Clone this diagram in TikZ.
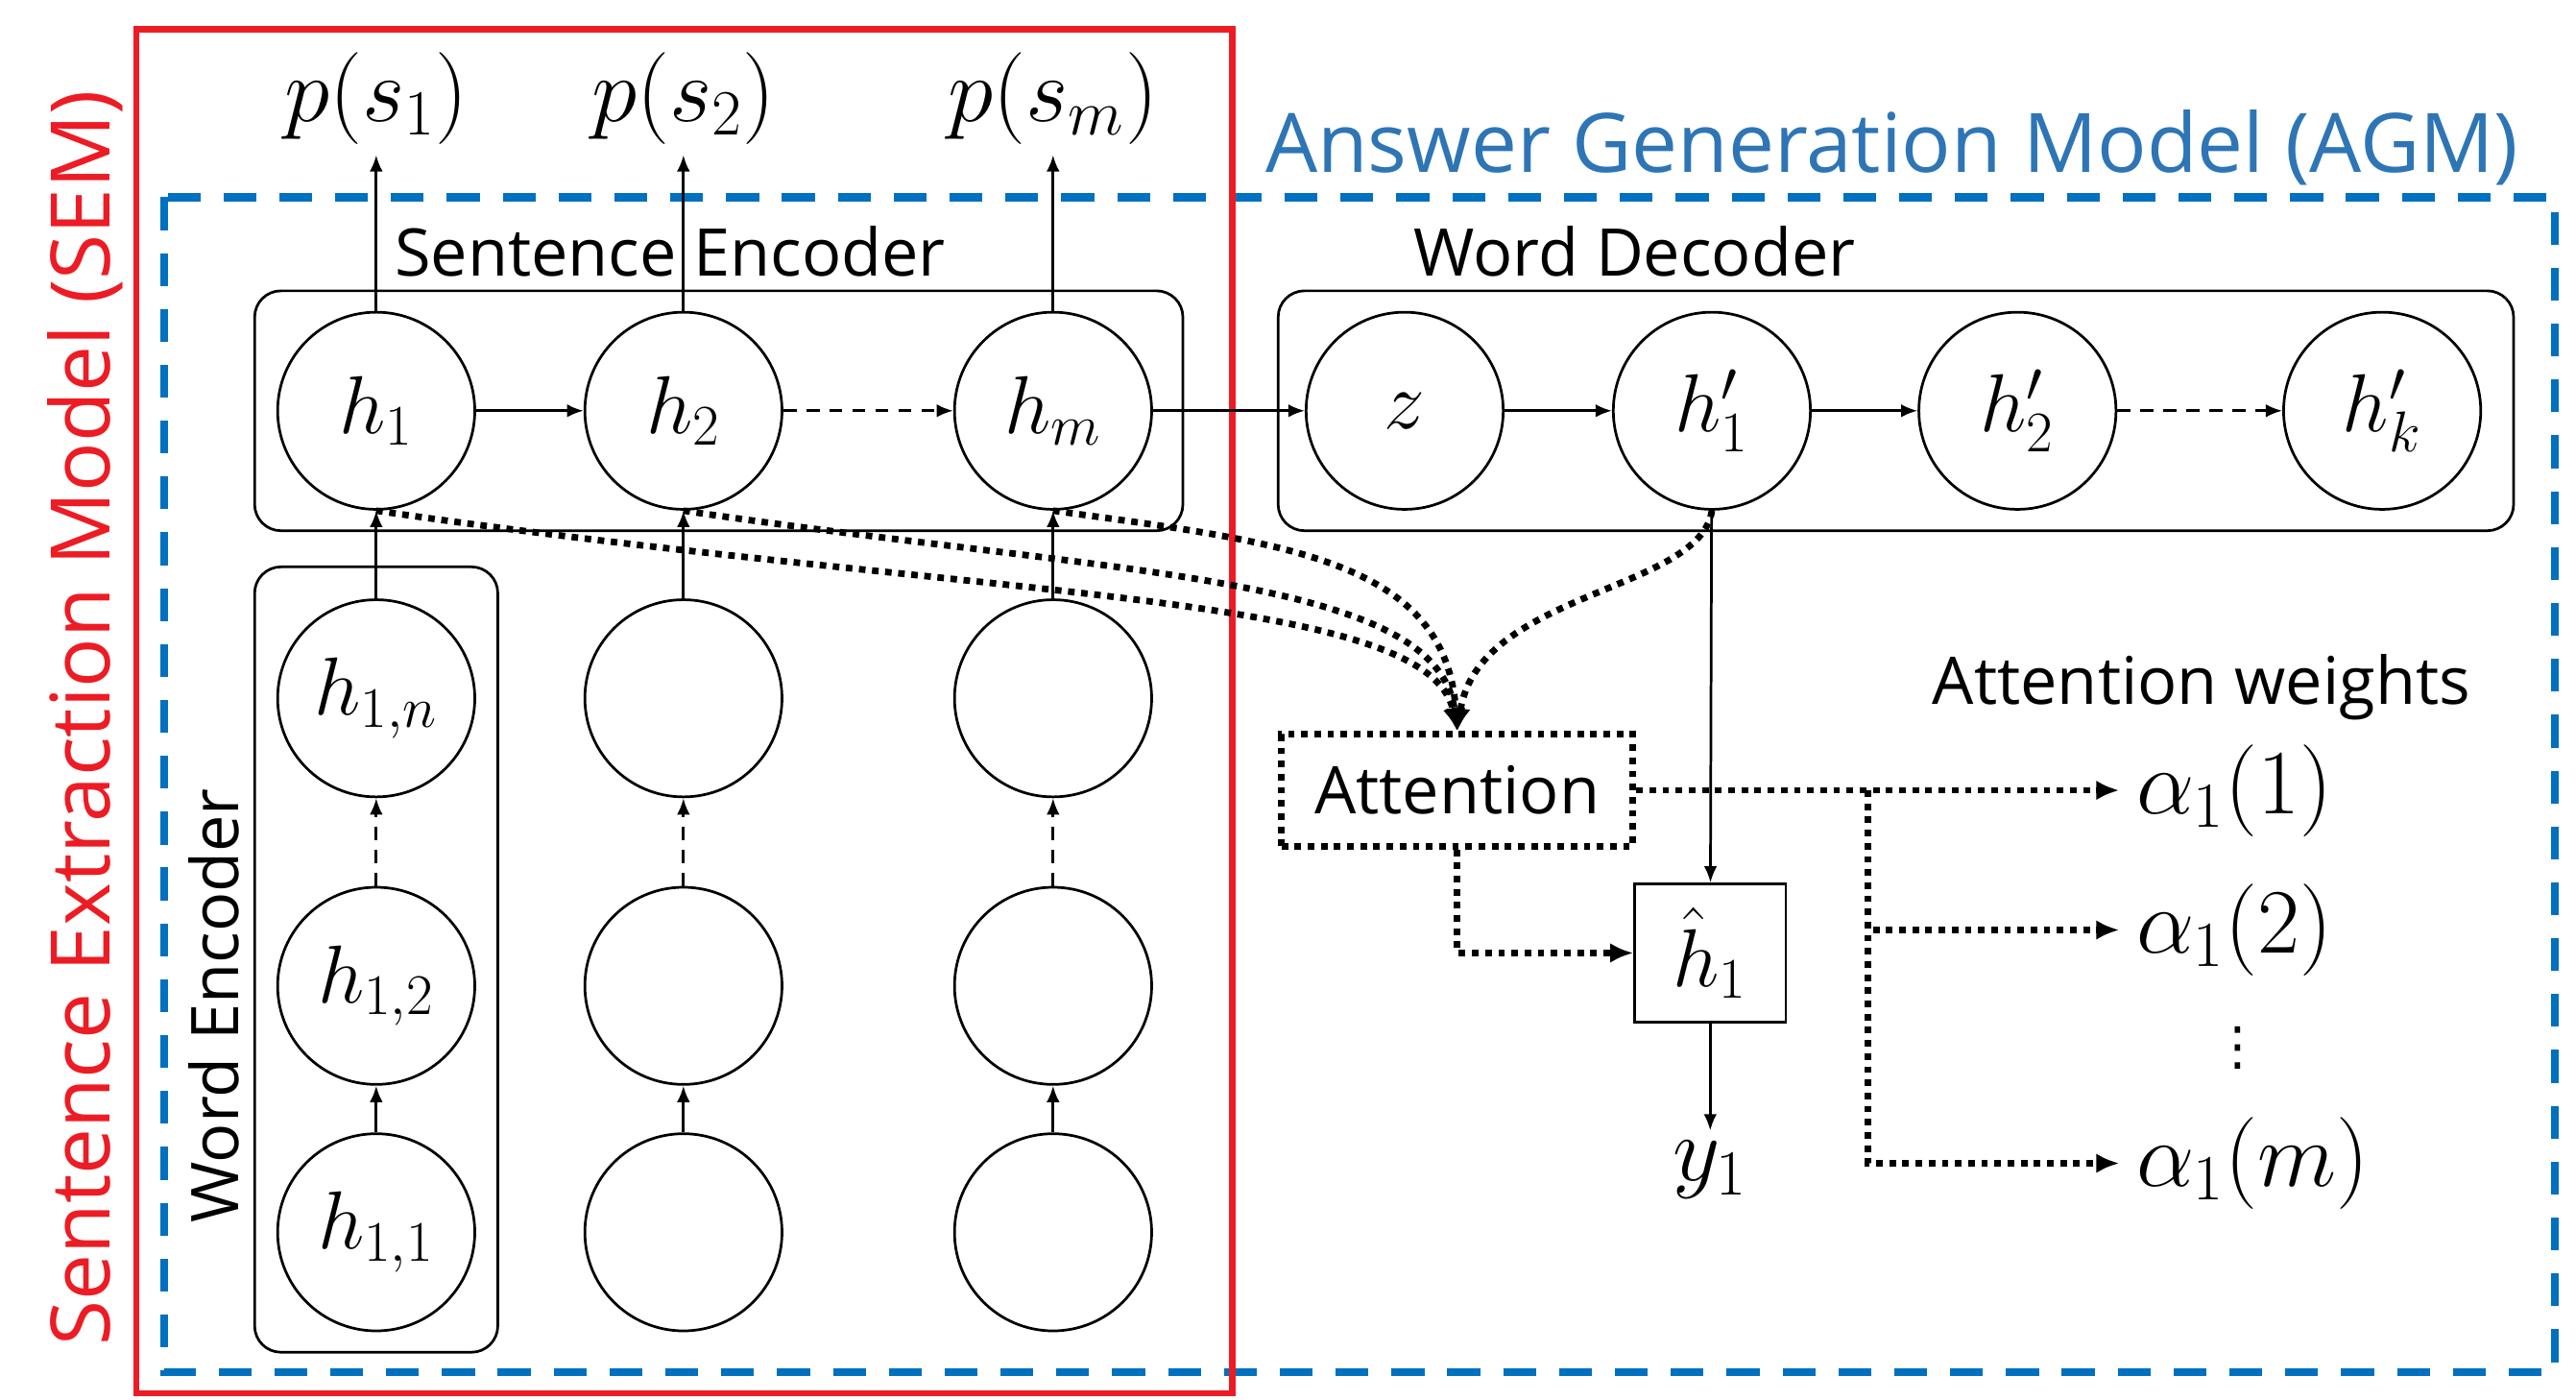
\RequirePackage{fix-cm}
\documentclass[tikz,border=0pt]{standalone}
\usepackage{fontspec}
\setmainfont{Open Sans}
\newfontfamily\djv{DejaVu Sans}
\usetikzlibrary{arrows.meta}
\definecolor{semred}{RGB}{237,28,36}
\definecolor{agmblue}{RGB}{0,112,192}
\definecolor{agmtext}{RGB}{46,117,182}
\begin{document}
\begin{tikzpicture}[x=0.5pt,y=-0.5pt,
  circ/.style={circle,draw,line width=0.8pt,fill=white,minimum size=60pt,inner sep=0pt,font=\fontsize{25}{30}\selectfont},
  grp/.style={draw,rounded corners=8pt,line width=0.8pt},
  arr/.style={-{Latex[length=5pt,width=4pt]},line width=0.8pt},
  darr/.style={arr,dash pattern=on 4pt off 3pt},
  dotline/.style={line width=2pt,dash pattern=on 2pt off 2pt},
  dotarr/.style={dotline,-{Latex[length=7pt,width=6pt]}},
  lbl/.style={font=\fontsize{20}{24}\selectfont},
  mlbl/.style={font=\fontsize{28}{32}\selectfont,inner sep=1pt},
  biglbl/.style={font=\fontsize{25}{30}\selectfont}
]
\useasboundingbox (0,0) rectangle (1568,852);

% outer boxes
\draw[agmblue,line width=2.5pt,dash pattern=on 10pt off 7pt] (100,120) rectangle (1555,835);
\draw[semred,line width=2pt] (83,18) rectangle (750,848);
\node[biglbl,text=semred,rotate=90] (semlbl) at (52,437) {Sentence Extraction Model (SEM)};
\node[biglbl,text=agmtext,anchor=east] (agmlbl) at (1540,90) {Answer Generation Model (AGM)};

% group boxes
\draw[grp] (155,177) rectangle (720,323);
\draw[grp] (778,177) rectangle (1530,323);
\draw[grp] (155,345) rectangle (303,823);
\node[lbl] (selbl) at (408,153) {Sentence Encoder};
\node[lbl] (wdlbl) at (995,153) {Word Decoder};
\node[lbl,rotate=90] (welbl) at (130,612) {Word Encoder};

% sentence encoder
\node[circ] (h1) at (229,250) {$h_1$};
\node[circ] (h2) at (416,250) {$h_2$};
\node[circ] (hm) at (641,250) {$h_m$};
% decoder
\node[circ] (z) at (855,250) {$z$};
\node[circ] (hp1) at (1042,250) {$h'_1$};
\node[circ] (hp2) at (1228,250) {$h'_2$};
\node[circ] (hpk) at (1450,250) {$h'_k$};
% word encoder
\node[circ] (w1n) at (229,425) {$h_{1,n}$};
\node[circ] (w12) at (229,600) {$h_{1,2}$};
\node[circ] (w11) at (229,750) {$h_{1,1}$};
\node[circ] (w2n) at (416,425) {};
\node[circ] (w22) at (416,600) {};
\node[circ] (w21) at (416,750) {};
\node[circ] (wmn) at (641,425) {};
\node[circ] (wm2) at (641,600) {};
\node[circ] (wm1) at (641,750) {};

% outputs
\node[mlbl,inner sep=3pt] (p1) at (229,60) {$p(s_1)$};
\node[mlbl,inner sep=3pt] (p2) at (416,60) {$p(s_2)$};
\node[mlbl,inner sep=3pt] (pm) at (641,60) {$p(s_m)$};
\draw[arr] (h1) -- (p1);
\draw[arr] (h2) -- (p2);
\draw[arr] (hm) -- (pm);

% horizontal chains
\draw[arr] (h1) -- (h2);
\draw[darr] (h2) -- (hm);
\draw[arr] (hm) -- (z);
\draw[arr] (z) -- (hp1);
\draw[arr] (hp1) -- (hp2);
\draw[darr] (hp2) -- (hpk);

% vertical chains
\foreach \a/\b/\c/\d in {w11/w12/w1n/h1, w21/w22/w2n/h2, wm1/wm2/wmn/hm}{
  \draw[arr] (\a) -- (\b);
  \draw[darr] (\b) -- (\c);
  \draw[arr] (\c) -- (\d);
}

% attention part
\node[lbl,dotline,draw,minimum width=107pt,minimum height=34pt,inner sep=0pt] (att) at (887,481) {Attention};
\node[draw,line width=0.8pt,minimum width=46pt,minimum height=42pt,inner sep=0pt,font=\fontsize{25}{30}\selectfont] (hh) at (1041,580) {$\hat{h}_1$};
\node[mlbl,inner sep=3pt] (y1) at (1041,712) {$y_1$};
\node[lbl] (awlbl) at (1340,418) {Attention weights};
\node[mlbl,anchor=west] (a1) at (1298,481) {$\alpha_1(1)$};
\node[mlbl,anchor=west] (a2) at (1298,566) {$\alpha_1(2)$};
\node[font=\djv\fontsize{16}{18}\selectfont,inner sep=0pt] (vd) at (1362,638) {⋮};
\node[mlbl,anchor=west] (am) at (1298,708) {$\alpha_1(m)$};
\coordinate (br) at (1137,481);

\draw[arr] (hp1) -- (hh);
\draw[arr] (hh) -- (y1);
\draw[dotarr] (att.east) -- ([xshift=-4pt]a1.west);
\draw[dotarr] (br) |- ([xshift=-4pt]a2.west);
\draw[dotarr] (br) |- ([xshift=-4pt]am.west);
\draw[dotarr] (att.south) |- (hh.west);

\draw[dotarr] (h1.south) .. controls (600,365) and (870,360) .. (att.north);
\draw[dotarr] (h2.south) .. controls (680,350) and (875,350) .. (att.north);
\draw[dotarr] (hm.south) .. controls (780,330) and (880,340) .. (att.north);
\draw[dotarr] (hp1.south) .. controls (1035,360) and (900,360) .. (att.north);
\end{tikzpicture}
\end{document}
